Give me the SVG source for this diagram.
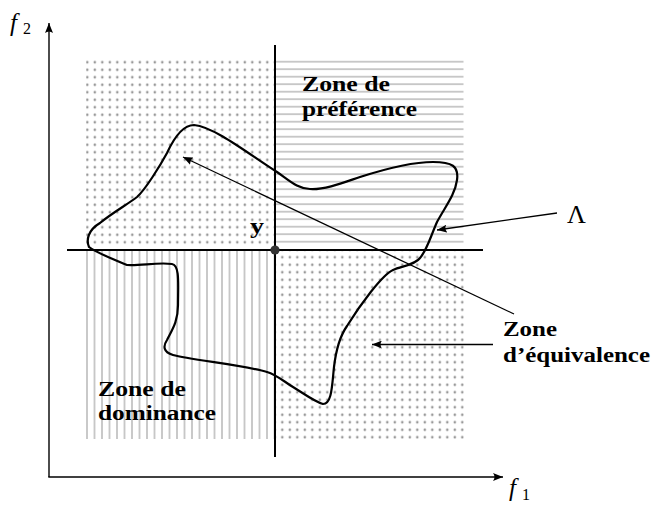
<svg xmlns="http://www.w3.org/2000/svg" width="654" height="505" viewBox="0 0 654 505">
  <style>
    .axis { stroke: #000; stroke-width: 1.4; fill: none; }
    .mid { stroke: #000; stroke-width: 2; fill: none; }
    .conn { stroke: #000; stroke-width: 1.3; fill: none; }
    .curve { stroke: #000; stroke-width: 2.2; fill: none; stroke-linejoin: round; }
    .lbl { font-family: "Liberation Serif", "Times New Roman", serif; font-weight: bold; font-size: 20.5px; fill: #000; }
    .math { font-family: "Liberation Serif", "Times New Roman", serif; font-style: italic; fill: #000; }
    .sub { font-family: "Liberation Serif", "Times New Roman", serif; fill: #000; }
  </style>
  <defs>
    <pattern id="dots" patternUnits="userSpaceOnUse" x="83.55" y="58.55" width="7.5" height="7.5">
      <circle cx="3.75" cy="3.75" r="1.3" fill="#999"/>
    </pattern>
    <pattern id="hlines" patternUnits="userSpaceOnUse" x="0" y="61.7" width="7.5" height="7.5">
      <line x1="0" y1="0" x2="7.5" y2="0" stroke="#b4b4b4" stroke-width="1.4"/>
      <line x1="0" y1="7.5" x2="7.5" y2="7.5" stroke="#b4b4b4" stroke-width="1.4"/>
    </pattern>
    <pattern id="vlines" patternUnits="userSpaceOnUse" x="87" y="0" width="7.5" height="7.5">
      <line x1="0" y1="0" x2="0" y2="7.5" stroke="#b4b4b4" stroke-width="1.4"/>
      <line x1="7.5" y1="0" x2="7.5" y2="7.5" stroke="#b4b4b4" stroke-width="1.4"/>
    </pattern>
    <marker id="ah" markerUnits="userSpaceOnUse" markerWidth="11" markerHeight="8" refX="10" refY="4" orient="auto">
      <path d="M0,0 Q3,4 0,8 L10,4 Z" fill="#000"/>
    </marker>
  </defs>

  <!-- zones (patterned quadrants) -->
  <g id="zones">
    <rect x="86" y="58" width="188" height="190" fill="url(#dots)"/>
    <rect x="276" y="60" width="187.5" height="186" fill="url(#hlines)"/>
    <rect x="86" y="251" width="188" height="188" fill="url(#vlines)"/>
    <rect x="276" y="251" width="188" height="188" fill="url(#dots)"/>
  </g>

  <!-- axes -->
  <g id="axes">
    <line class="axis" x1="49" y1="477" x2="49" y2="23" marker-end="url(#ah)"/>
    <line class="axis" x1="48.3" y1="477" x2="503" y2="477" marker-end="url(#ah)"/>
    <line class="mid" x1="275" y1="45" x2="275" y2="457"/>
    <line class="mid" x1="67" y1="250" x2="483" y2="250"/>
  </g>

  <!-- Lambda set -->
  <g id="lambda-set">
    <path class="curve" d="M 194,125
      C 215,127 250,155 277,172
      C 290,181 298,189 310,189
      C 325,190 345,182 360,177
      C 385,169 410,162 433,162
      C 452,162 459,166 457,180
      C 455,195 445,207 437,222
      C 430,238 427,250 420,258
      C 415,265 402,266 393,270
      C 382,275 360,305 347,326
      C 340,336 336,350 334,367
      C 332,385 332,404 323,404
      C 315,402 303,393 293,387
      C 283,381 277,375 267,372
      C 245,365 190,360 173,355
      C 163,352 163,346 167,340
      C 172,330 178,322 178,305
      C 178,285 180,265 172,264
      C 158,262 140,266 127,265
      C 110,258 95,252 89,247
      C 86,240 88,230 100,223
      C 112,213 128,204 137,197
      C 145,190 160,166 167,153
      C 173,140 182,125 194,125 Z"/>
  </g>

  <!-- point y -->
  <g id="point-y">
    <circle cx="275" cy="250" r="4.6" fill="#333"/>
    <text class="lbl" x="250" y="233" font-size="22" textLength="14" lengthAdjust="spacingAndGlyphs">y</text>
  </g>

  <!-- connectors -->
  <g id="connectors">
    <line class="conn" x1="557" y1="213" x2="437" y2="230" marker-end="url(#ah)"/>
    <line class="conn" x1="514" y1="314" x2="183" y2="157" marker-end="url(#ah)"/>
    <line class="conn" x1="493" y1="344.5" x2="372" y2="344.5" marker-end="url(#ah)"/>
  </g>

  <!-- labels -->
  <g id="zone-preference">
    <text class="lbl" x="302" y="91" textLength="88" lengthAdjust="spacingAndGlyphs">Zone de</text>
    <text class="lbl" x="302" y="116" textLength="115" lengthAdjust="spacingAndGlyphs">préférence</text>
  </g>
  <g id="zone-dominance">
    <text class="lbl" x="98" y="396" textLength="88" lengthAdjust="spacingAndGlyphs">Zone de</text>
    <text class="lbl" x="98" y="420" textLength="118" lengthAdjust="spacingAndGlyphs">dominance</text>
  </g>
  <g id="zone-equivalence">
    <text class="lbl" x="503" y="336" textLength="54" lengthAdjust="spacingAndGlyphs">Zone</text>
    <text class="lbl" x="503" y="362" textLength="147" lengthAdjust="spacingAndGlyphs">d’équivalence</text>
  </g>
  <g id="lambda-label">
    <text class="sub" x="567" y="223" font-size="26">Λ</text>
  </g>
  <g id="axis-labels">
    <text class="math" x="10" y="31" font-size="25">f</text>
    <text class="sub" x="23" y="34" font-size="16">2</text>
    <text class="math" x="509" y="496" font-size="25">f</text>
    <text class="sub" x="522" y="500" font-size="16">1</text>
  </g>
</svg>
